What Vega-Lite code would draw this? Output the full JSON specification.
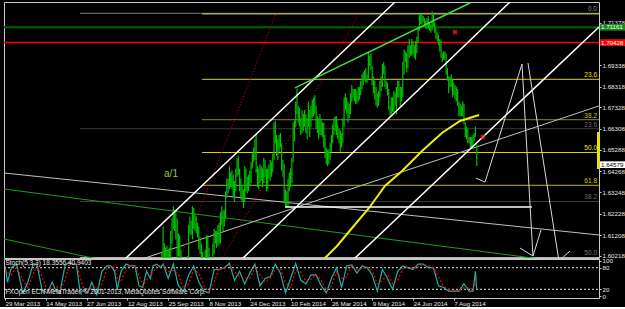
{
  "$schema": "https://vega.github.io/schema/vega-lite/v6.json",
  "background": "black",
  "padding": {"left": 2, "top": 1, "right": 0, "bottom": 0},
  "spacing": 1,
  "bounds": "flush",
  "config": {
    "view": {"stroke": "#c8c8c8", "strokeWidth": 1},
    "font": "Liberation Sans",
    "axis": {"domain": false, "grid": false, "labelFont": "Liberation Sans", "labelFontSize": 6.2, "labelColor": "#e8e8e8", "tickColor": "#c8c8c8", "labelOverlap": false, "labelFlush": false, "labelBound": false, "title": null}
  },
  "datasets": {
    "price": [
      {"i":123,"p":1.6040,"p2":1.5910},{"i":124,"p":1.6160,"p2":1.5990},{"i":125,"p":1.6080,"p2":1.5960},{"i":126,"p":1.6060,"p2":1.5980},{"i":127,"p":1.6070,"p2":1.5980},{"i":128,"p":1.6050,"p2":1.5990},{"i":129,"p":1.6060,"p2":1.5985},{"i":130,"p":1.6140,"p2":1.6010},{"i":131,"p":1.6200,"p2":1.6080},{"i":132,"p":1.6260,"p2":1.6150},
      {"i":133,"p":1.6240,"p2":1.6140},{"i":134,"p":1.6230,"p2":1.6100},{"i":135,"p":1.6200,"p2":1.6000},{"i":136,"p":1.6130,"p2":1.6020},{"i":137,"p":1.6120,"p2":1.6000},{"i":138,"p":1.6050,"p2":1.5900},{"i":139,"p":1.5990,"p2":1.5920},{"i":140,"p":1.6010,"p2":1.5940},{"i":141,"p":1.6010,"p2":1.5920},{"i":142,"p":1.5990,"p2":1.5895},
      {"i":143,"p":1.6020,"p2":1.5920},{"i":144,"p":1.6170,"p2":1.5980},{"i":145,"p":1.6210,"p2":1.6130},{"i":146,"p":1.6190,"p2":1.6120},{"i":147,"p":1.6260,"p2":1.6100},{"i":148,"p":1.6250,"p2":1.6150},{"i":149,"p":1.6220,"p2":1.6140},{"i":150,"p":1.6210,"p2":1.6130},{"i":151,"p":1.6180,"p2":1.6110},{"i":152,"p":1.6160,"p2":1.6050},
      {"i":153,"p":1.6110,"p2":1.6030},{"i":154,"p":1.6080,"p2":1.6010},{"i":155,"p":1.6040,"p2":1.5910},{"i":156,"p":1.6010,"p2":1.5940},{"i":157,"p":1.6050,"p2":1.5960},{"i":158,"p":1.6120,"p2":1.6010},{"i":159,"p":1.6120,"p2":1.5980},{"i":160,"p":1.6060,"p2":1.5855},{"i":161,"p":1.5990,"p2":1.5890},{"i":162,"p":1.5990,"p2":1.5860},
      {"i":163,"p":1.6080,"p2":1.5880},{"i":164,"p":1.6150,"p2":1.6030},{"i":165,"p":1.6140,"p2":1.6080},{"i":166,"p":1.6140,"p2":1.6060},{"i":167,"p":1.6170,"p2":1.6070},{"i":168,"p":1.6180,"p2":1.6080},{"i":169,"p":1.6230,"p2":1.6080},{"i":170,"p":1.6260,"p2":1.6170},{"i":171,"p":1.6240,"p2":1.6140},{"i":172,"p":1.6240,"p2":1.6160},
      {"i":173,"p":1.6330,"p2":1.6200},{"i":174,"p":1.6390,"p2":1.6300},{"i":175,"p":1.6390,"p2":1.6320},{"i":176,"p":1.6450,"p2":1.6340},{"i":177,"p":1.6420,"p2":1.6350},{"i":178,"p":1.6430,"p2":1.6340},{"i":179,"p":1.6410,"p2":1.6300},{"i":180,"p":1.6380,"p2":1.6280},{"i":181,"p":1.6440,"p2":1.6330},{"i":182,"p":1.6490,"p2":1.6400},
      {"i":183,"p":1.6500,"p2":1.6410},{"i":184,"p":1.6440,"p2":1.6330},{"i":185,"p":1.6390,"p2":1.6290},{"i":186,"p":1.6360,"p2":1.6280},{"i":187,"p":1.6340,"p2":1.6250},{"i":188,"p":1.6450,"p2":1.6280},{"i":189,"p":1.6440,"p2":1.6330},{"i":190,"p":1.6400,"p2":1.6320},{"i":191,"p":1.6410,"p2":1.6330},{"i":192,"p":1.6430,"p2":1.6360},
      {"i":193,"p":1.6470,"p2":1.6370},{"i":194,"p":1.6510,"p2":1.6440},{"i":195,"p":1.6540,"p2":1.6470},{"i":196,"p":1.6580,"p2":1.6480},{"i":197,"p":1.6603,"p2":1.6420},{"i":198,"p":1.6450,"p2":1.6350},{"i":199,"p":1.6440,"p2":1.6340},{"i":200,"p":1.6460,"p2":1.6370},{"i":201,"p":1.6450,"p2":1.6380},{"i":202,"p":1.6440,"p2":1.6350},
      {"i":203,"p":1.6490,"p2":1.6370},{"i":204,"p":1.6480,"p2":1.6400},{"i":205,"p":1.6440,"p2":1.6330},{"i":206,"p":1.6440,"p2":1.6340},{"i":207,"p":1.6460,"p2":1.6390},{"i":208,"p":1.6480,"p2":1.6380},{"i":209,"p":1.6470,"p2":1.6400},{"i":210,"p":1.6510,"p2":1.6420},{"i":211,"p":1.6660,"p2":1.6480},{"i":212,"p":1.6668,"p2":1.6560},
      {"i":213,"p":1.6600,"p2":1.6500},{"i":214,"p":1.6580,"p2":1.6480},{"i":215,"p":1.6600,"p2":1.6520},{"i":216,"p":1.6610,"p2":1.6540},{"i":217,"p":1.6560,"p2":1.6430},{"i":218,"p":1.6480,"p2":1.6400},{"i":219,"p":1.6460,"p2":1.6280},{"i":220,"p":1.6340,"p2":1.6260},{"i":221,"p":1.6330,"p2":1.6250},{"i":222,"p":1.6390,"p2":1.6260},
      {"i":223,"p":1.6420,"p2":1.6330},{"i":224,"p":1.6440,"p2":1.6350},{"i":225,"p":1.6490,"p2":1.6370},{"i":226,"p":1.6660,"p2":1.6470},{"i":227,"p":1.6670,"p2":1.6570},{"i":228,"p":1.6760,"p2":1.6640},{"i":229,"p":1.6823,"p2":1.6700},{"i":230,"p":1.6740,"p2":1.6660},{"i":231,"p":1.6730,"p2":1.6640},{"i":232,"p":1.6680,"p2":1.6600},
      {"i":233,"p":1.6720,"p2":1.6610},{"i":234,"p":1.6700,"p2":1.6620},{"i":235,"p":1.6720,"p2":1.6640},{"i":236,"p":1.6700,"p2":1.6610},{"i":237,"p":1.6680,"p2":1.6580},{"i":238,"p":1.6760,"p2":1.6640},{"i":239,"p":1.6720,"p2":1.6590},{"i":240,"p":1.6740,"p2":1.6640},{"i":241,"p":1.6770,"p2":1.6680},{"i":242,"p":1.6780,"p2":1.6690},
      {"i":243,"p":1.6790,"p2":1.6700},{"i":244,"p":1.6740,"p2":1.6630},{"i":245,"p":1.6690,"p2":1.6610},{"i":246,"p":1.6680,"p2":1.6580},{"i":247,"p":1.6700,"p2":1.6600},{"i":248,"p":1.6680,"p2":1.6600},{"i":249,"p":1.6660,"p2":1.6590},{"i":250,"p":1.6660,"p2":1.6540},{"i":251,"p":1.6600,"p2":1.6490},{"i":252,"p":1.6540,"p2":1.6460},
      {"i":253,"p":1.6530,"p2":1.6450},{"i":254,"p":1.6530,"p2":1.6460},{"i":255,"p":1.6560,"p2":1.6480},{"i":256,"p":1.6600,"p2":1.6520},{"i":257,"p":1.6650,"p2":1.6560},{"i":258,"p":1.6680,"p2":1.6600},{"i":259,"p":1.6690,"p2":1.6620},{"i":260,"p":1.6690,"p2":1.6600},{"i":261,"p":1.6650,"p2":1.6580},{"i":262,"p":1.6630,"p2":1.6560},
      {"i":263,"p":1.6620,"p2":1.6520},{"i":264,"p":1.6610,"p2":1.6540},{"i":265,"p":1.6680,"p2":1.6560},{"i":266,"p":1.6780,"p2":1.6640},{"i":267,"p":1.6800,"p2":1.6720},{"i":268,"p":1.6780,"p2":1.6700},{"i":269,"p":1.6760,"p2":1.6660},{"i":270,"p":1.6750,"p2":1.6680},{"i":271,"p":1.6800,"p2":1.6700},{"i":272,"p":1.6840,"p2":1.6760},
      {"i":273,"p":1.6820,"p2":1.6780},{"i":274,"p":1.6820,"p2":1.6760},{"i":275,"p":1.6820,"p2":1.6750},{"i":276,"p":1.6810,"p2":1.6750},{"i":277,"p":1.6830,"p2":1.6760},{"i":278,"p":1.6830,"p2":1.6770},{"i":279,"p":1.6860,"p2":1.6790},{"i":280,"p":1.6890,"p2":1.6820},{"i":281,"p":1.6900,"p2":1.6840},{"i":282,"p":1.6910,"p2":1.6860},
      {"i":283,"p":1.6920,"p2":1.6850},{"i":284,"p":1.6890,"p2":1.6850},{"i":285,"p":1.6996,"p2":1.6870},{"i":286,"p":1.6980,"p2":1.6930},{"i":287,"p":1.6990,"p2":1.6910},{"i":288,"p":1.6930,"p2":1.6840},{"i":289,"p":1.6880,"p2":1.6800},{"i":290,"p":1.6860,"p2":1.6770},{"i":291,"p":1.6830,"p2":1.6740},{"i":292,"p":1.6800,"p2":1.6730},
      {"i":293,"p":1.6810,"p2":1.6740},{"i":294,"p":1.6860,"p2":1.6780},{"i":295,"p":1.6880,"p2":1.6810},{"i":296,"p":1.6940,"p2":1.6830},{"i":297,"p":1.6950,"p2":1.6890},{"i":298,"p":1.6930,"p2":1.6830},{"i":299,"p":1.6860,"p2":1.6820},{"i":300,"p":1.6850,"p2":1.6790},{"i":301,"p":1.6820,"p2":1.6720},{"i":302,"p":1.6740,"p2":1.6693},
      {"i":303,"p":1.6780,"p2":1.6700},{"i":304,"p":1.6780,"p2":1.6710},{"i":305,"p":1.6810,"p2":1.6710},{"i":306,"p":1.6800,"p2":1.6740},{"i":307,"p":1.6830,"p2":1.6700},{"i":308,"p":1.6860,"p2":1.6780},{"i":309,"p":1.6860,"p2":1.6780},{"i":310,"p":1.6830,"p2":1.6740},{"i":311,"p":1.6830,"p2":1.6760},{"i":312,"p":1.6950,"p2":1.6780},
      {"i":313,"p":1.7010,"p2":1.6890},{"i":314,"p":1.7000,"p2":1.6950},{"i":315,"p":1.6990,"p2":1.6900},{"i":316,"p":1.7030,"p2":1.6920},{"i":317,"p":1.7060,"p2":1.6970},{"i":318,"p":1.7030,"p2":1.6980},{"i":319,"p":1.7060,"p2":1.6980},{"i":320,"p":1.7050,"p2":1.6990},{"i":321,"p":1.7030,"p2":1.6970},{"i":322,"p":1.7050,"p2":1.6960},
      {"i":323,"p":1.7070,"p2":1.6990},{"i":324,"p":1.7120,"p2":1.7040},{"i":325,"p":1.7180,"p2":1.7100},{"i":326,"p":1.7180,"p2":1.7130},{"i":327,"p":1.7180,"p2":1.7130},{"i":328,"p":1.7170,"p2":1.7140},{"i":329,"p":1.7160,"p2":1.7120},{"i":330,"p":1.7150,"p2":1.7110},{"i":331,"p":1.7160,"p2":1.7110},{"i":332,"p":1.7170,"p2":1.7110},
      {"i":333,"p":1.7140,"p2":1.7100},{"i":334,"p":1.7130,"p2":1.7090},{"i":335,"p":1.7191,"p2":1.7100},{"i":336,"p":1.7180,"p2":1.7120},{"i":337,"p":1.7140,"p2":1.7090},{"i":338,"p":1.7110,"p2":1.7060},{"i":339,"p":1.7090,"p2":1.7050},{"i":340,"p":1.7080,"p2":1.7030},{"i":341,"p":1.7060,"p2":1.7000},{"i":342,"p":1.7050,"p2":1.6970},
      {"i":343,"p":1.6990,"p2":1.6950},{"i":344,"p":1.7000,"p2":1.6960},{"i":345,"p":1.7000,"p2":1.6960},{"i":346,"p":1.6990,"p2":1.6890},{"i":347,"p":1.6920,"p2":1.6860},{"i":348,"p":1.6880,"p2":1.6800},{"i":349,"p":1.6880,"p2":1.6830},{"i":350,"p":1.6890,"p2":1.6830},{"i":351,"p":1.6870,"p2":1.6780},{"i":352,"p":1.6850,"p2":1.6790},
      {"i":353,"p":1.6840,"p2":1.6770},{"i":354,"p":1.6830,"p2":1.6760},{"i":355,"p":1.6820,"p2":1.6740},{"i":356,"p":1.6760,"p2":1.6690},{"i":357,"p":1.6750,"p2":1.6690},{"i":358,"p":1.6740,"p2":1.6690},{"i":359,"p":1.6760,"p2":1.6690},{"i":360,"p":1.6750,"p2":1.6650},{"i":361,"p":1.6660,"p2":1.6590},{"i":362,"p":1.6640,"p2":1.6580},
      {"i":363,"p":1.6630,"p2":1.6560},{"i":364,"p":1.6590,"p2":1.6560},{"i":365,"p":1.6590,"p2":1.6530},{"i":366,"p":1.6590,"p2":1.6540},{"i":367,"p":1.6600,"p2":1.6535},{"i":368,"p":1.6610,"p2":1.6570},{"i":369,"p":1.6640,"p2":1.6590},{"i":370,"p":1.6555,"p2":1.6452}
    ],
    "ma": [
      {"i":242.4,"p":1.59582},{"i":250.2,"p":1.60061},{"i":260.4,"p":1.60684},{"i":272.2,"p":1.61546},{"i":285.5,"p":1.62504},{"i":298.0,"p":1.63557},{"i":311.4,"p":1.64276},{"i":327.1,"p":1.65234},{"i":342.7,"p":1.66096},{"i":356.9,"p":1.66670},{"i":371.8,"p":1.66958}
    ],
    "lines": [
      {"g":"w","id":"A","o":1,"i":94.12,"p":1.60061},{"g":"w","id":"A","o":2,"i":305.88,"p":1.72369},
      {"g":"w","id":"B","o":1,"i":185.88,"p":1.60061},{"g":"w","id":"B","o":2,"i":396.08,"p":1.72369},
      {"g":"w","id":"C","o":1,"i":273.73,"p":1.60061},{"g":"w","id":"C","o":2,"i":465.88,"p":1.71172},
      {"g":"w","id":"S","o":1,"i":219.6,"p":1.62551},{"g":"w","id":"S","o":2,"i":413.3,"p":1.62551},
      {"g":"lime","id":"L","o":1,"i":227.45,"p":1.68251},{"g":"lime","id":"L","o":2,"i":364.71,"p":1.72321},
      {"g":"rd","id":"R1","o":1,"i":137.25,"p":1.60061},{"g":"rd","id":"R1","o":2,"i":212.55,"p":1.71809},
      {"g":"rd","id":"R2","o":1,"i":170.2,"p":1.60061},{"g":"rd","id":"R2","o":2,"i":277.65,"p":1.71809},
      {"g":"lg","id":"E","o":1,"i":-0.78,"p":1.64180},{"g":"lg","id":"E","o":2,"i":465.88,"p":1.61211},
      {"g":"lg","id":"H","o":1,"i":107.45,"p":1.60061},{"g":"lg","id":"H","o":2,"i":465.88,"p":1.67393},
      {"g":"dg","id":"F","o":1,"i":-0.78,"p":1.63414},{"g":"dg","id":"F","o":2,"i":419.6,"p":1.60061},
      {"g":"dg","id":"G","o":1,"i":-0.78,"p":1.61019},{"g":"dg","id":"G","o":2,"i":72.16,"p":1.60061},
      {"g":"z","id":"Z1","o":1,"i":369.4,"p":1.63934},{"g":"z","id":"Z1","o":2,"i":376.5,"p":1.63743},{"g":"z","id":"Z1","o":3,"i":405.5,"p":1.69400},{"g":"z","id":"Z1","o":4,"i":414.1,"p":1.60204},{"g":"z","id":"Z1","o":5,"i":420.4,"p":1.61449},
      {"g":"z","id":"Z1b","o":1,"i":403.9,"p":1.60587},{"g":"z","id":"Z1b","o":2,"i":414.1,"p":1.60204},
      {"g":"z","id":"Z2","o":1,"i":410.2,"p":1.69448},{"g":"z","id":"Z2","o":2,"i":434.5,"p":1.59965},{"g":"z","id":"Z2","o":3,"i":443.1,"p":1.60444}
    ],
    "levels": [
      {"g":"gray","i":58.8,"i2":465.9,"p":1.71828,"t":"0.0"},
      {"g":"kh","i":154.5,"i2":465.9,"p":1.71809,"t":""},
      {"g":"ye","i":154.5,"i2":465.9,"p":1.68667,"t":"23.6"},
      {"g":"ol","i":154.5,"i2":465.9,"p":1.66732,"t":"38.2"},
      {"g":"dgray","i":58.8,"i2":465.9,"p":1.66301,"t":"23.6"},
      {"g":"ye","i":154.5,"i2":465.9,"p":1.65162,"t":"50.0"},
      {"g":"ye2","i":154.5,"i2":465.9,"p":1.63591,"t":"61.8"},
      {"g":"dgray","i":58.8,"i2":465.9,"p":1.62815,"t":"38.2"},
      {"g":"lgray","i":58.8,"i2":465.9,"p":1.60133,"t":"50.0"}
    ],
    "hlines": [
      {"g":"green","i":-0.8,"i2":465.9,"p":1.71161},
      {"g":"red","i":-0.8,"i2":465.9,"p":1.70428}
    ],
    "boxes": [
      {"g":"green","i":466.7,"i2":487.8,"p":1.71161,"hi":1.71321,"lo":1.71001,"t":"1.71161"},
      {"g":"red","i":466.7,"i2":487.8,"p":1.70428,"hi":1.70588,"lo":1.70268,"t":"1.70428"},
      {"g":"white","i":466.7,"i2":487.8,"p":1.64579,"hi":1.64739,"lo":1.64419,"t":"1.64579"}
    ],
    "bar": [{"i":465.5,"p":1.66143,"p2":1.64371}],
    "xs": [{"i":352.9,"p":1.70933},{"i":374.9,"p":1.65904}],
    "notes": [{"i":130.2,"p":1.64124,"t":"a/1"}],
    "stoch": [
      {"i":0,"k":85,"d":75},{"i":2,"k":40,"d":65},{"i":5,"k":80,"d":60},{"i":9,"k":90,"d":82},{"i":14,"k":10,"d":45},{"i":18,"k":40,"d":25},{"i":22,"k":90,"d":60},{"i":25,"k":90,"d":88},{"i":29,"k":20,"d":55},{"i":33,"k":10,"d":18},
      {"i":37,"k":40,"d":25},{"i":40,"k":15,"d":30},{"i":43,"k":10,"d":15},{"i":47,"k":85,"d":45},{"i":50,"k":95,"d":85},{"i":53,"k":90,"d":92},{"i":56,"k":90,"d":90},{"i":59,"k":10,"d":55},{"i":62,"k":20,"d":15},{"i":65,"k":10,"d":15},
      {"i":68,"k":40,"d":25},{"i":72,"k":5,"d":25},{"i":76,"k":70,"d":35},{"i":80,"k":85,"d":78},{"i":83,"k":85,"d":85},{"i":86,"k":70,"d":80},{"i":88,"k":20,"d":50},{"i":91,"k":70,"d":40},{"i":95,"k":90,"d":80},{"i":98,"k":85,"d":88},
      {"i":102,"k":85,"d":85},{"i":105,"k":30,"d":60},{"i":108,"k":25,"d":30},{"i":111,"k":70,"d":45},{"i":114,"k":50,"d":62},{"i":116,"k":85,"d":65},{"i":119,"k":90,"d":85},{"i":122,"k":80,"d":87},{"i":124,"k":90,"d":85},{"i":128,"k":50,"d":70},
      {"i":132,"k":90,"d":72},{"i":136,"k":30,"d":62},{"i":140,"k":15,"d":22},{"i":144,"k":60,"d":35},{"i":148,"k":85,"d":75},{"i":152,"k":40,"d":65},{"i":156,"k":15,"d":30},{"i":160,"k":10,"d":12},{"i":164,"k":75,"d":40},{"i":168,"k":75,"d":78},
      {"i":172,"k":80,"d":77},{"i":176,"k":92,"d":88},{"i":180,"k":45,"d":68},{"i":184,"k":70,"d":55},{"i":188,"k":35,"d":52},{"i":192,"k":65,"d":50},{"i":196,"k":90,"d":80},{"i":200,"k":30,"d":60},{"i":204,"k":50,"d":40},{"i":208,"k":55,"d":52},
      {"i":212,"k":90,"d":75},{"i":216,"k":65,"d":78},{"i":220,"k":10,"d":38},{"i":224,"k":50,"d":25},{"i":228,"k":92,"d":72},{"i":232,"k":45,"d":68},{"i":236,"k":35,"d":42},{"i":240,"k":60,"d":48},{"i":244,"k":60,"d":62},{"i":248,"k":30,"d":45},
      {"i":252,"k":10,"d":18},{"i":256,"k":50,"d":30},{"i":260,"k":80,"d":68},{"i":264,"k":25,"d":50},{"i":268,"k":85,"d":55},{"i":272,"k":88,"d":87},{"i":276,"k":65,"d":75},{"i":280,"k":85,"d":76},{"i":284,"k":80,"d":82},{"i":288,"k":60,"d":72},
      {"i":292,"k":15,"d":35},{"i":296,"k":75,"d":45},{"i":300,"k":50,"d":62},{"i":304,"k":20,"d":35},{"i":308,"k":70,"d":45},{"i":312,"k":85,"d":78},{"i":316,"k":80,"d":83},{"i":320,"k":75,"d":78},{"i":324,"k":90,"d":82},{"i":328,"k":90,"d":90},
      {"i":332,"k":80,"d":85},{"i":336,"k":80,"d":80},{"i":340,"k":30,"d":55},{"i":344,"k":25,"d":28},{"i":348,"k":15,"d":20},{"i":352,"k":15,"d":15},{"i":356,"k":15,"d":15},{"i":360,"k":35,"d":25},{"i":364,"k":15,"d":25},{"i":367,"k":15,"d":18},
      {"i":368,"k":40,"d":25},{"i":369,"k":70,"d":42},{"i":370,"k":18.36,"d":40.94}
    ],
    "stochlev": [{"i":-0.8,"i2":465.9,"k":80},{"i":-0.8,"i2":465.9,"k":20}],
    "stochtext": [
      {"i":0.3,"k":93,"t":"Stoch(5,3,3) 18.3556 40.9403"},
      {"i":0.3,"k":12.5,"t":"FXOpen ECN MetaTrader, © 2001-2013, MetaQuotes Software Corp."}
    ]
  },
  "vconcat": [
    {
      "width": 595,
      "height": 256,
      "encoding": {
        "x": {"field": "i", "type": "quantitative", "scale": {"domain": [-0.8, 465.9], "nice": false, "zero": false}, "axis": null},
        "y": {"field": "p", "type": "quantitative", "scale": {"domain": [1.60109, 1.72369], "nice": false, "zero": false},
          "axis": {"orient": "right", "values": [1.60218, 1.61208, 1.62228, 1.63248, 1.64268, 1.65288, 1.66308, 1.67328, 1.68318, 1.69338, 1.70358, 1.71378], "format": ".5f", "tickSize": 2, "labelPadding": 1, "labelBaseline": "middle"}}
      },
      "resolve": {"scale": {"color": "independent", "fill": "independent", "stroke": "independent"}},
      "layer": [
        {"data": {"name": "levels"}, "transform": [{"filter": "datum.g != 'kh'"}], "mark": {"type": "rule", "strokeWidth": 1, "clip": true},
          "encoding": {"x2": {"field": "i2"}, "stroke": {"field": "g", "type": "nominal", "legend": null,
            "scale": {"domain": ["gray", "ye", "ol", "dgray", "ye2", "lgray"], "range": ["#7a7a7a", "#d8d800", "#8a8a28", "#3c3c3c", "#b8b800", "#b4b4b4"]}}}},
        {"data": {"name": "levels"}, "transform": [{"filter": "datum.g == 'kh'"}], "mark": {"type": "rule", "strokeWidth": 1.5, "color": "#a8a860"},
          "encoding": {"x2": {"field": "i2"}}},
        {"data": {"name": "levels"}, "mark": {"type": "text", "align": "right", "baseline": "bottom", "dx": -2, "dy": -1, "fontSize": 6.5},
          "encoding": {"x": {"field": "i2", "type": "quantitative"}, "text": {"field": "t"}, "fill": {"field": "g", "type": "nominal", "legend": null,
            "scale": {"domain": ["gray", "kh", "ye", "ol", "dgray", "ye2", "lgray"], "range": ["#909090", "#a8a860", "#e6e600", "#c8c800", "#6e6e6e", "#d0d000", "#7a7a7a"]}}}},
        {"data": {"name": "hlines"}, "transform": [{"filter": "datum.g == 'green'"}], "mark": {"type": "rule", "strokeWidth": 2, "color": "#006400"},
          "encoding": {"x2": {"field": "i2"}}},
        {"data": {"name": "hlines"}, "transform": [{"filter": "datum.g == 'red'"}], "mark": {"type": "rule", "strokeWidth": 1.5, "color": "#ff0000"},
          "encoding": {"x2": {"field": "i2"}}},
        {"data": {"name": "lines"}, "transform": [{"filter": "datum.g == 'dg'"}], "mark": {"type": "line", "strokeWidth": 1, "color": "#1e9e1e", "clip": true},
          "encoding": {"detail": {"field": "id"}, "order": {"field": "o"}}},
        {"data": {"name": "lines"}, "transform": [{"filter": "datum.g == 'lg'"}], "mark": {"type": "line", "strokeWidth": 1, "color": "#c0c0c0", "clip": true},
          "encoding": {"detail": {"field": "id"}, "order": {"field": "o"}}},
        {"data": {"name": "lines"}, "transform": [{"filter": "datum.g == 'rd'"}], "mark": {"type": "line", "strokeWidth": 1, "color": "#e00000", "strokeDash": [1, 2], "clip": true},
          "encoding": {"detail": {"field": "id"}, "order": {"field": "o"}}},
        {"data": {"name": "price"}, "mark": {"type": "rule", "strokeWidth": 1.2, "color": "#00c000", "clip": true},
          "encoding": {"y2": {"field": "p2"}}},
        {"data": {"name": "ma"}, "mark": {"type": "line", "strokeWidth": 2, "color": "#f0f000", "clip": true},
          "encoding": {}},
        {"data": {"name": "lines"}, "transform": [{"filter": "datum.g == 'w'"}], "mark": {"type": "line", "strokeWidth": 1.5, "color": "#ffffff", "clip": true},
          "encoding": {"detail": {"field": "id"}, "order": {"field": "o"}}},
        {"data": {"name": "lines"}, "transform": [{"filter": "datum.g == 'z'"}], "mark": {"type": "line", "strokeWidth": 1, "color": "#d8d8d8", "clip": true},
          "encoding": {"detail": {"field": "id"}, "order": {"field": "o"}}},
        {"data": {"name": "lines"}, "transform": [{"filter": "datum.g == 'lime'"}], "mark": {"type": "line", "strokeWidth": 1.4, "color": "#40e040", "clip": true},
          "encoding": {"detail": {"field": "id"}, "order": {"field": "o"}}},
        {"data": {"name": "xs"}, "mark": {"type": "point", "shape": "cross", "angle": 45, "size": 30, "filled": true, "color": "#ff2020"},
          "encoding": {}},
        {"data": {"name": "notes"}, "mark": {"type": "text", "fontSize": 10, "color": "#9acd32", "align": "center", "baseline": "middle"},
          "encoding": {"text": {"field": "t"}}},
        {"data": {"name": "bar"}, "mark": {"type": "rule", "strokeWidth": 3, "color": "#e6e600"},
          "encoding": {"y2": {"field": "p2"}}},
        {"data": {"name": "boxes"}, "mark": {"type": "rect"},
          "encoding": {"x2": {"field": "i2"}, "y": {"field": "hi", "type": "quantitative"}, "y2": {"field": "lo"},
            "color": {"field": "g", "type": "nominal", "legend": null, "scale": {"domain": ["green", "red", "white"], "range": ["#1a8a1a", "#ff0000", "#ffffff"]}}}},
        {"data": {"name": "boxes"}, "mark": {"type": "text", "align": "left", "baseline": "middle", "dx": 1, "fontSize": 6.2},
          "encoding": {"text": {"field": "t"},
            "fill": {"field": "g", "type": "nominal", "legend": null, "scale": {"domain": ["green", "red", "white"], "range": ["#ffffff", "#ffffff", "#000000"]}}}}
      ]
    },
    {
      "width": 595,
      "height": 39,
      "encoding": {
        "x": {"field": "i", "type": "quantitative", "scale": {"domain": [-0.8, 465.9], "nice": false, "zero": false},
          "axis": {"orient": "bottom", "values": [0, 32, 64, 96, 128, 160, 192, 224, 256, 288, 320, 352],
            "labelExpr": "['29 Mar 2013','14 May 2013','27 Jun 2013','12 Aug 2013','25 Sep 2013','8 Nov 2013','24 Dec 2013','10 Feb 2014','26 Mar 2014','9 May 2014','24 Jun 2014','7 Aug 2014'][round(datum.value/32)]",
            "labelAlign": "left", "tickSize": 2, "labelPadding": 0, "labelBaseline": "top"}},
        "y": {"field": "k", "type": "quantitative", "scale": {"domain": [-4.2, 104.2], "nice": false, "zero": false},
          "axis": {"orient": "right", "values": [0, 20, 80, 100], "tickSize": 2, "labelPadding": 1, "labelBaseline": "middle"}}
      },
      "layer": [
        {"data": {"name": "stochlev"}, "mark": {"type": "rule", "strokeWidth": 1, "color": "#e0e0e0", "strokeDash": [2, 2]},
          "encoding": {"x2": {"field": "i2"}}},
        {"data": {"name": "stoch"}, "mark": {"type": "line", "strokeWidth": 1.2, "color": "#20b2aa"},
          "encoding": {}},
        {"data": {"name": "stoch"}, "mark": {"type": "line", "strokeWidth": 1.2, "color": "#ff0000", "strokeDash": [2, 2]},
          "encoding": {"y": {"field": "d", "type": "quantitative"}}},
        {"data": {"name": "stochtext"}, "mark": {"type": "text", "align": "left", "baseline": "middle", "fontSize": 6.5, "color": "#e8e8e8"},
          "encoding": {"text": {"field": "t"}}}
      ]
    }
  ]
}
